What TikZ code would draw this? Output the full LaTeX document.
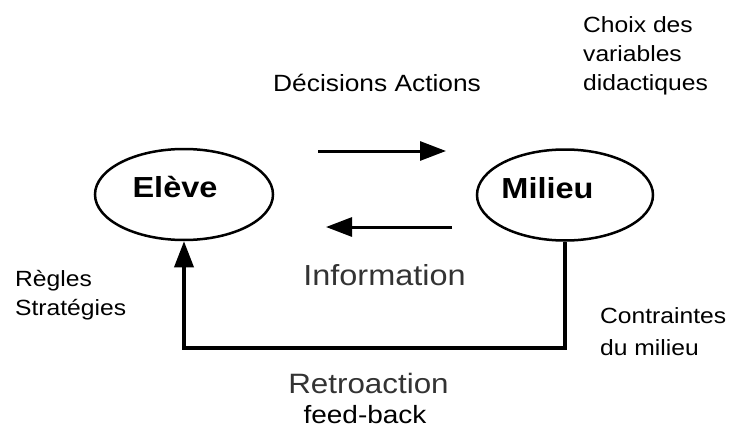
\documentclass[tikz,border=0pt]{standalone}
\usepackage{fontspec}
\setmainfont{Liberation Sans}[FakeStretch=1.12]
\usetikzlibrary{shapes.geometric,arrows.meta}

\begin{document}
\begin{tikzpicture}[x=1pt,y=-1pt]
		
		% Styles
		\tikzset{
			etat/.style={
				ellipse,
				draw,
				line width=2.5pt,
				minimum width=178pt,
				minimum height=91pt
			},
			titre/.style={
				font=\fontsize{29}{34}\selectfont\bfseries,
				anchor=base,
				inner sep=0pt
			},
			petit/.style={
				font=\fontsize{22}{29}\selectfont,
				anchor=base west,
				align=left,
				inner sep=0pt
			},
			grand/.style={
				font=\fontsize{29}{34}\selectfont,
				text=black!80,
				anchor=base,
				inner sep=0pt
			},
			fleche/.style={
				line width=3pt,
				-{Triangle[length=26pt,width=19pt]}
			}
		}
		
		\useasboundingbox (0,0) rectangle (731,428);
		
		% Noeuds
		\node[etat] (eleve) at (184,194.5) {};
		\node[etat, minimum width=176pt] (milieu) at (565,195) {};
		\node[titre] (eleveT) at (175,197) {Elève};
		\node[titre] (milieuT) at (547.5,198) {Milieu};
		
		% Points des fleches
		\coordinate (d1) at (318,151);
		\coordinate (d2) at (446,151);
		\coordinate (i1) at (452,227);
		\coordinate (i2) at (326,227);
		\coordinate (bas) at (0,348);
		
		% Fleches
		\draw[fleche] (d1) -- (d2);
		\draw[fleche] (i1) -- (i2);
		\draw[fleche, line width=3.5pt] (milieu.south) -- (milieu.south |- bas) -| (eleve.south);
		
		% Etiquettes (base = derniere ligne)
		\node[petit, font=\fontsize{23.5}{29}\selectfont] (decis) at (273,92) {Décisions Actions};
		\node[petit] (choix) at (583,90) {Choix des\\variables\\didactiques};
		\node[petit] (regles) at (15,315) {Règles\\Stratégies};
		\node[petit, font=\fontsize{22}{32}\selectfont] (contr) at (600,355) {Contraintes\\du milieu};
		\node[grand] (info) at (384.5,285) {Information};
		\node[grand, font=\fontsize{28}{34}\selectfont] (retro) at (368.5,393) {Retroaction};
		\node[petit, anchor=base, font=\fontsize{25}{29}\selectfont] (feed) at (365,423) {feed-back};
		
	\end{tikzpicture}
\end{document}
